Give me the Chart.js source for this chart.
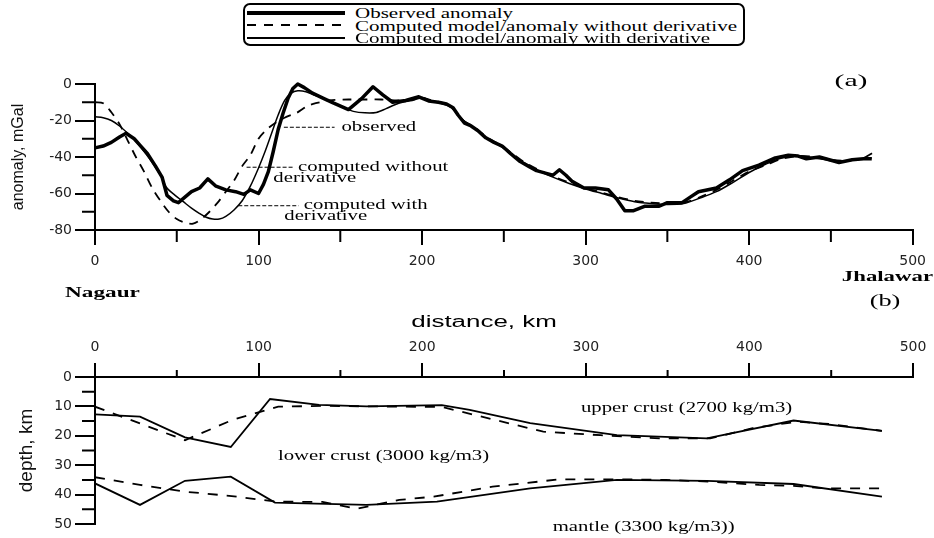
<!DOCTYPE html>
<html>
<head>
<meta charset="utf-8">
<script src="https://cdn.jsdelivr.net/npm/chart.js@4.4.1/dist/chart.umd.min.js"></script>
<style>
  html, body { margin: 0; padding: 0; background: #fff; }
  body { width: 934px; height: 538px; position: relative; overflow: hidden; }
  #anomalyChart { position: absolute; left: 0; top: 0; }
  #depthChart { position: absolute; left: 0; top: 300px; }
  #legend { position: absolute; left: 243px; top: 3px; width: 502px; height: 43px; box-sizing: border-box;
            border: 2px solid #000; border-radius: 7px; padding-top: 0; background: #fff; z-index: 2; }
  #legend .row { position: relative; height: 12.6px; }
  #legend .swatch { position: absolute; left: 2px; width: 98px; }
  #legend .txt { position: absolute; left: 110px; top: 1px; line-height: 13px; font: 14px "Liberation Serif", serif;
                 white-space: nowrap; transform: scaleX(1.5); transform-origin: left center; }
</style>
</head>
<body>
<div id="legend"></div>
<canvas id="anomalyChart" width="934" height="312"></canvas>
<canvas id="depthChart" width="934" height="238"></canvas>
<script>
// axis ticks
const kmTicks = [0, 100, 200, 300, 400, 500];
const kmMinor = [50, 150, 250, 350, 450];
const anomalyTicks = [0, -20, -40, -60, -80];
const anomalyMinor = [-10, -30, -50, -70];
const depthTicks = [0, 10, 20, 30, 40, 50];
const depthMinor = [5, 15, 25, 35, 45];

// (a) gravity anomaly, mGal
const obsKm = [0,5,10,15,19,24,28,32,37,41,44,48,51,55,59,64,69,74,80,86,91,95,100,103,106,109,112,115,118,121,124,128,133,140,146,155,163,170,176,182,190,198,204,210,215,219,222,226,230,234,239,244,249,254,260,265,270,276,280,284,288,292,299,306,314,319,324,329,336,345,350,359,364,369,380,388,396,406,416,424,430,435,443,449,455,463,470,475];
const obsMgal = [-35,-34,-32,-29,-27,-30,-34,-38,-45,-51,-61,-64,-65,-62,-59,-57,-52,-56,-58,-59,-60.5,-58,-60,-55,-48,-37,-25,-16,-8,-2.5,0,-2,-5,-8,-10.5,-14,-8,-1.5,-6,-10,-9,-7,-9.3,-10,-11,-13,-17,-21.5,-23,-25.5,-29.5,-32,-34,-38,-42.5,-45,-47.5,-49,-50,-47,-50,-53.5,-57,-57,-58,-63,-69.5,-69.5,-67,-67,-65,-65,-62,-59,-57,-52.5,-47.5,-44.5,-40.5,-39,-39.5,-41,-40,-41.5,-43,-41.5,-41,-41];

const noDerivKm = [0,5,10,15,20,25,30,35,40,45,50,55,60,65,70,75,80,85,90,95,100,105,110,117,123,130,135,145,155,165,175,185,195,200,206,213,218,222,226,231,236,241,248,255,262,270,280,290,300,310,320,330,340,350,360,370,380,390,400,410,420,430,440,450,460,470,476];
const noDerivMgal = [-10,-10.5,-15.5,-22,-31,-40,-48,-57,-64,-70,-74,-76,-76.5,-74,-70,-65,-59,-53,-45,-39,-30,-25,-21.5,-18,-16,-12,-10.5,-8.8,-8.5,-8.5,-8.5,-9,-8.5,-7.5,-9,-10.5,-13,-16.5,-20.5,-23,-26.5,-30,-33.5,-38,-42.5,-46.5,-50.5,-54,-57,-59.5,-62,-64,-65,-65.5,-65,-62,-58,-53,-48,-44.5,-41,-39.5,-40,-41.5,-42,-40.5,-37.5];

const withDerivKm = [0,5,10,15,20,25,30,35,40,44,49,54,59,64,68,72,76,80,85,90,95,100,104,108,112,116,120,124,129,134,140,146,152,158,165,172,178,183,188,194,200,206,213,218,222,226,231,236,241,248,255,262,270,280,290,300,310,320,330,340,350,360,370,380,390,400,410,420,430,440,450,460,470,475];
const withDerivMgal = [-18,-18.5,-20,-23,-27,-31.5,-37,-43,-50,-57,-61,-64.5,-68,-71,-73,-74,-74,-72.5,-69,-64,-56,-46,-37,-27,-17,-9,-5,-3.7,-4.2,-6,-8,-10.5,-13,-15,-15.8,-15.6,-13.5,-11.5,-10,-9,-7.5,-9.5,-11,-13,-17,-20.5,-23.5,-27,-30.5,-34,-38.5,-43,-47,-51,-54.5,-57.5,-60,-62.5,-64.5,-65.5,-66,-65.5,-62.5,-59,-54,-48.5,-44,-40.5,-39.5,-40.5,-42,-42,-41,-40.5];

// (b) model interfaces, depth km
const upperWithKm = [0,27.5,55,83,107,137,166,212,229,266,319,374,427,481];
const upperWithDepth = [12.7,13.5,20.5,23.8,7.5,9.5,10,9.6,11.2,15.7,19.8,20.9,14.8,18.3];
const upperNoKm = [0,55,84,112,140,170,212,240,274,309,345,376,402,429,449,481];
const upperNoDepth = [10.1,21.5,14.6,10.1,9.8,10,10.2,14,18.6,19.8,20.9,20.9,17.4,15.2,16,18.3];
const lowerWithKm = [0,27.5,55,83,110,166,209,266,319,374,427,481];
const lowerWithDepth = [36.2,43.5,35.3,33.9,42.7,43.5,42.4,37.9,35,35.3,36.4,40.7];
const lowerNoKm = [0,27.5,55,83.5,111,139,160,186,207,243,284,319,349,376,406,427,447,480];
const lowerNoDepth = [34.1,36.7,39,40.5,42.4,42.5,44.8,41.8,40.7,37.3,34.8,34.8,35,35.6,36.7,37,37.9,37.9];

function pts(xs, ys) {
    return xs.map((x, i) => ({x: x, y: ys[i]}));
}

// text in the figure is horizontally stretched
function stretchText(ctx, text, x, y, font, align, sx) {
    ctx.save();
    ctx.font = font;
    ctx.fillStyle = '#000';
    ctx.textBaseline = 'middle';
    ctx.textAlign = 'left';
    let w = ctx.measureText(text).width * sx;
    let left = align === 'center' ? x - w / 2 : (align === 'right' ? x - w : x);
    ctx.translate(left, y);
    ctx.scale(sx, 1);
    ctx.fillText(text, 0, 0);
    ctx.restore();
}

const minorTicks = {
    id: 'minorTicks',
    afterDraw(chart, args, opts) {
        let ctx = chart.ctx, a = chart.chartArea;
        let xs = chart.scales.x, ys = chart.scales.y;
        ctx.save();
        ctx.strokeStyle = '#000';
        ctx.lineWidth = 2;
        ctx.beginPath();
        opts.x.forEach(v => {
            let px = xs.getPixelForValue(v);
            let y0 = opts.xTop ? a.top : a.bottom;
            ctx.moveTo(px, y0);
            ctx.lineTo(px, y0 + (opts.xTop ? -opts.xLen : opts.xLen));
        });
        opts.y.forEach(v => {
            let py = ys.getPixelForValue(v);
            ctx.moveTo(a.left, py);
            ctx.lineTo(a.left - opts.yLen, py);
        });
        ctx.stroke();
        ctx.restore();
    }
};

const serif = '14px "Liberation Serif"';

const anomalyNotes = {
    id: 'anomalyNotes',
    afterDraw(chart) {
        let ctx = chart.ctx;
        let X = v => chart.scales.x.getPixelForValue(v);
        let Y = v => chart.scales.y.getPixelForValue(v);
        ctx.save();
        ctx.strokeStyle = '#000';
        ctx.lineWidth = 1;
        ctx.setLineDash([4, 2]);
        [[115.5, 146.5, -23.7], [92.7, 121.5, -45.6], [87.6, 124.5, -66.7]].forEach(l => {
            ctx.beginPath();
            ctx.moveTo(X(l[0]), Y(l[2]));
            ctx.lineTo(X(l[1]), Y(l[2]));
            ctx.stroke();
        });
        ctx.restore();
        stretchText(ctx, 'observed', X(150.7), Y(-23.7), serif, 'left', 1.48);
        stretchText(ctx, 'computed without', X(124.2), Y(-45.6), serif, 'left', 1.48);
        stretchText(ctx, 'derivative', X(134.4), Y(-51.7), serif, 'center', 1.48);
        stretchText(ctx, 'computed with', X(127.7), Y(-66.7), serif, 'left', 1.48);
        stretchText(ctx, 'derivative', X(141.1), Y(-72.7), serif, 'center', 1.48);
        stretchText(ctx, '(a)', 851, 82, '17px "Liberation Serif"', 'center', 1.75);
        stretchText(ctx, 'Jhalawar', 933, 277, 'bold 15px "Liberation Serif"', 'right', 1.52);
        stretchText(ctx, 'Nagaur', 65, 293, 'bold 15px "Liberation Serif"', 'left', 1.55);
        stretchText(ctx, '(b)', 885, 302, '17px "Liberation Serif"', 'center', 1.55);
    }
};

const depthNotes = {
    id: 'depthNotes',
    afterDraw(chart) {
        let ctx = chart.ctx;
        let X = v => chart.scales.x.getPixelForValue(v);
        let Y = v => chart.scales.y.getPixelForValue(v);
        stretchText(ctx, 'distance, km', 484, 23, '16px "Liberation Sans"', 'center', 1.62);
        stretchText(ctx, 'upper crust (2700 kg/m3)', X(361.6), Y(10.5), serif, 'center', 1.48);
        stretchText(ctx, 'lower crust (3000 kg/m3)', X(111.8), Y(27.1), serif, 'left', 1.48);
        stretchText(ctx, 'mantle (3300 kg/m3))', X(279.8), Y(51.3), serif, 'left', 1.48);
    }
};

const tickFont = {family: 'DejaVu Sans', size: 14};

function axisStyle(len) {
    return {
        grid: {drawOnChartArea: false, drawTicks: true, tickLength: len, color: '#000', lineWidth: 2},
        border: {display: true, color: '#000', width: 2}
    };
}

const anomalyChart = new Chart(document.getElementById('anomalyChart'), {
    type: 'line',
    data: {
        datasets: [{
            label: 'Observed anomaly',
            data: pts(obsKm, obsMgal),
            borderColor: '#000',
            borderWidth: 3.5,
            borderJoinStyle: 'round',
            pointRadius: 0,
            tension: 0,
            clip: false
        }, {
            label: 'Computed model/anomaly without derivative',
            data: pts(noDerivKm, noDerivMgal),
            borderColor: '#000',
            borderWidth: 1.8,
            borderDash: [9, 7],
            pointRadius: 0,
            tension: 0.3,
            clip: false
        }, {
            label: 'Computed model/anomaly with derivative',
            data: pts(withDerivKm, withDerivMgal),
            borderColor: '#000',
            borderWidth: 1.5,
            pointRadius: 0,
            tension: 0.3,
            clip: false
        }]
    },
    options: {
        responsive: false,
        animation: false,
        layout: {padding: {top: 84, right: 21, bottom: 0, left: 0}},
        plugins: {
            legend: {display: false},
            tooltip: {enabled: false},
            minorTicks: {x: kmMinor, xLen: 12, xTop: false, y: anomalyMinor, yLen: 13}
        },
        scales: {
            x: Object.assign({
                type: 'linear', position: 'bottom', min: 0, max: 500,
                afterBuildTicks: s => { s.ticks = kmTicks.map(v => ({value: v})); },
                afterFit: s => { s.height = 82; },
                ticks: {font: tickFont, color: '#222', padding: 8, maxRotation: 0, autoSkip: false}
            }, axisStyle(15)),
            y: Object.assign({
                type: 'linear', min: -80, max: 0,
                afterBuildTicks: s => { s.ticks = anomalyTicks.map(v => ({value: v})); },
                afterFit: s => { s.width = 95; },
                ticks: {font: tickFont, color: '#222', padding: 3},
                title: {display: true, text: 'anomaly, mGal', color: '#111',
                        font: {family: 'Liberation Sans', size: 16}, padding: {top: 9, bottom: 0}}
            }, axisStyle(20))
        }
    },
    plugins: [minorTicks, anomalyNotes]
});

const depthChart = new Chart(document.getElementById('depthChart'), {
    type: 'line',
    data: {
        datasets: [
            {label: 'upper, with derivative', data: pts(upperWithKm, upperWithDepth), borderDash: []},
            {label: 'upper, without derivative', data: pts(upperNoKm, upperNoDepth), borderDash: [10, 9]},
            {label: 'lower, with derivative', data: pts(lowerWithKm, lowerWithDepth), borderDash: []},
            {label: 'lower, without derivative', data: pts(lowerNoKm, lowerNoDepth), borderDash: [10, 9]}
        ].map(ds => Object.assign(ds, {borderColor: '#000', borderWidth: 1.8, pointRadius: 0, tension: 0}))
    },
    options: {
        responsive: false,
        animation: false,
        layout: {padding: {top: 0, right: 21, bottom: 14, left: 0}},
        plugins: {
            legend: {display: false},
            tooltip: {enabled: false},
            minorTicks: {x: kmMinor, xLen: 7, xTop: true, y: depthMinor, yLen: 13}
        },
        scales: {
            x: Object.assign({
                type: 'linear', position: 'top', min: 0, max: 500,
                afterBuildTicks: s => { s.ticks = kmTicks.map(v => ({value: v})); },
                afterFit: s => { s.height = 77; },
                ticks: {font: tickFont, color: '#222', padding: 7, maxRotation: 0, autoSkip: false}
            }, axisStyle(14)),
            y: Object.assign({
                type: 'linear', min: 0, max: 50, reverse: true,
                afterBuildTicks: s => { s.ticks = depthTicks.map(v => ({value: v})); },
                afterFit: s => { s.width = 95; },
                ticks: {font: tickFont, color: '#222', padding: 3},
                title: {display: true, text: 'depth, km', color: '#111',
                        font: {family: 'Liberation Sans', size: 19}, padding: {top: 15, bottom: 0}}
            }, axisStyle(20))
        }
    },
    plugins: [minorTicks, depthNotes]
});

// legend box built from the anomaly datasets
let legendBox = document.getElementById('legend');
anomalyChart.data.datasets.forEach(ds => {
    let row = document.createElement('div');
    row.className = 'row';
    let sw = document.createElement('span');
    sw.className = 'swatch';
    let h = ds.borderWidth + 0.5;
    sw.style.height = h + 'px';
    sw.style.top = (7.5 - h / 2) + 'px';
    if (ds.borderDash && ds.borderDash.length) {
        sw.style.background = 'repeating-linear-gradient(to right, #000 0 9px, transparent 9px 17px)';
    } else {
        sw.style.background = '#000';
    }
    let txt = document.createElement('span');
    txt.className = 'txt';
    txt.textContent = ds.label;
    row.appendChild(sw);
    row.appendChild(txt);
    legendBox.appendChild(row);
});
</script>
</body>
</html>
